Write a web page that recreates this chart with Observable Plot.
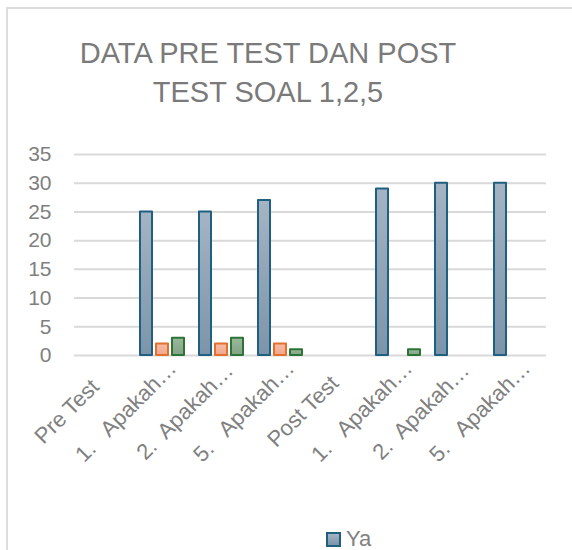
<!DOCTYPE html>
<html>
<head>
<meta charset="utf-8">
<script src="https://cdn.jsdelivr.net/npm/d3@7"></script>
<script src="https://cdn.jsdelivr.net/npm/@observablehq/plot@0.6"></script>
<style>
  html, body { margin: 0; padding: 0; background: #fff; overflow: hidden; width: 572px; height: 550px; }
  #frame { position: absolute; left: 6px; top: 7px; width: 700px; height: 700px; border: 2px solid #dcdcdc; box-sizing: border-box; }
  #title { position: absolute; left: 0; top: 34px; width: 536px; text-align: center; font-family: "Liberation Sans", Arial, sans-serif; font-size: 29px; line-height: 39px; color: #7a7a7a; }
  #chart { position: absolute; left: 0; top: 0; }
  #chart svg text { white-space: pre; }
  #legend { position: absolute; left: 326px; top: 526px; font-family: "Liberation Sans", Arial, sans-serif; font-size: 22px; color: #808080; display: flex; align-items: center; gap: 5px; }
  #legend .sw { width: 11px; height: 11px; border: 2px solid #1f5f80; background: linear-gradient(#a4b4c4, #7c94aa); }
</style>
</head>
<body>
<div id="frame"></div>
<div id="title">DATA PRE TEST DAN POST<br>TEST SOAL 1,2,5</div>
<div id="chart"></div>
<div id="legend"><span class="sw"></span><span>Ya</span></div>
<script>
const categories = ["Pre Test", "1.   Apakah…", "2.  Apakah…", "5.   Apakah…", "Post Test", "1.   Apakah…", "2.  Apakah…", "5.   Apakah…"];
const seriesNames = ["Ya", "Tidak", "Tidak Tahu"];
const ya = [null, 25, 25, 27, null, 29, 30, 30];
const tidak = [null, 2, 2, 2, null, null, null, null];
const tidakTahu = [null, 3, 3, 1, null, 1, null, null];
const yTicks = [0, 5, 10, 15, 20, 25, 30, 35];

const seriesValues = [ya, tidak, tidakTahu];
const rows = [];
seriesValues.forEach((vals, s) => vals.forEach((v, i) => {
  if (v != null) rows.push({i, series: seriesNames[s], value: v});
}));
const labels = categories.map((c, i) => ({i, c}));
const styles = {
  "Ya": {fill: "url(#gYa)", stroke: "#1f5f80"},
  "Tidak": {fill: "url(#gTidak)", stroke: "#e2702f"},
  "Tidak Tahu": {fill: "url(#gTT)", stroke: "#2b7536"}
};

const plot = Plot.plot({
  width: 572,
  height: 550,
  marginTop: 154,
  marginBottom: 195,
  marginLeft: 73,
  marginRight: 25,
  style: {fontFamily: "Liberation Sans, Arial, sans-serif", fontSize: "21px", color: "#808080", background: "transparent"},
  fx: {domain: d3.range(categories.length), paddingInner: 0, paddingOuter: 0, axis: null, label: null},
  x: {domain: seriesNames, paddingInner: 0.245, paddingOuter: 0.436, axis: null},
  y: {domain: [0, 35], ticks: yTicks, tickSize: 0, tickPadding: 23, label: null},
  marks: [
    Plot.ruleY(yTicks, {stroke: "#d9d9d9", strokeWidth: 2}),
    ...seriesNames.map(s => Plot.barY(rows.filter(d => d.series === s), {
      fx: "i", x: "series", y: "value",
      fill: styles[s].fill, stroke: styles[s].stroke, strokeWidth: 2, strokeLinejoin: "round"
    })),
    Plot.text(labels, {
      fx: "i", text: "c", frameAnchor: "bottom", rotate: -45,
      textAnchor: "middle", lineAnchor: "middle", dx: -37, dy: 56,
      fill: "#808080", fontSize: 22
    })
  ]
});

const ns = "http://www.w3.org/2000/svg";
const defs = document.createElementNS(ns, "defs");
function grad(id, top, bottom) {
  const g = document.createElementNS(ns, "linearGradient");
  g.setAttribute("id", id); g.setAttribute("x1", 0); g.setAttribute("y1", 0); g.setAttribute("x2", 0); g.setAttribute("y2", 1);
  [[0, top], [1, bottom]].forEach(([o, c]) => {
    const st = document.createElementNS(ns, "stop");
    st.setAttribute("offset", o); st.setAttribute("stop-color", c);
    g.appendChild(st);
  });
  defs.appendChild(g);
}
grad("gYa", "#a4b4c4", "#7c94aa");
grad("gTidak", "#f7bca6", "#f0a78c");
grad("gTT", "#9ab89a", "#84a386");
plot.insertBefore(defs, plot.firstChild);
document.getElementById("chart").appendChild(plot);
</script>
</body>
</html>
